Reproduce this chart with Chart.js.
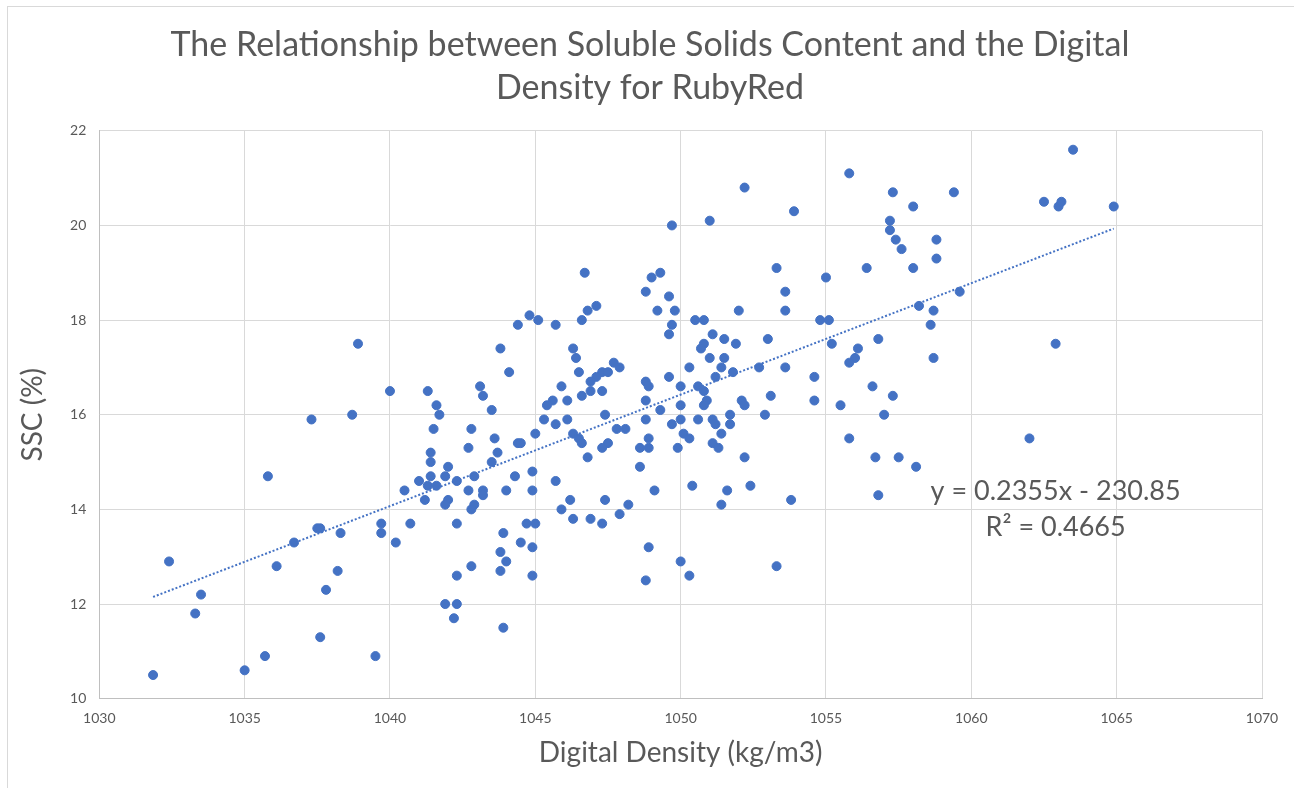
<!DOCTYPE html>
<html>
<head>
<meta charset="utf-8">
<title>SSC vs Digital Density - RubyRed</title>
<script src="https://cdn.jsdelivr.net/npm/chart.js@4.4.1/dist/chart.umd.min.js"></script>
<style>
  html, body { margin: 0; padding: 0; background: #fff; overflow: hidden; }
  canvas { display: block; }
</style>
</head>
<body>
<canvas id="chart" width="1294" height="788"></canvas>
<script>
// data (density kg/m3, SSC %)
const density = [
  1031.85, 1032.4, 1033.3, 1033.5, 1035.0, 1035.7, 1035.8, 1036.1, 1036.7, 1037.3,
  1037.5, 1037.6, 1037.6, 1037.8, 1038.2, 1038.3, 1038.7, 1038.9, 1039.5, 1039.7,
  1039.7, 1040.0, 1040.2, 1040.5, 1040.7,
  1046.7, 1049.0, 1049.3, 1048.8, 1049.6, 1046.8, 1047.1, 1049.2, 1049.8, 1049.7,
  1049.6, 1044.8, 1045.1, 1044.4, 1045.7, 1046.6, 1043.8, 1044.1, 1046.3, 1046.4,
  1046.5, 1047.7, 1047.9, 1047.3, 1047.5, 1047.1, 1046.9, 1046.9, 1046.6, 1047.3,
  1045.9, 1046.1, 1045.6, 1045.4,
  1041.3, 1041.6, 1041.7, 1041.5, 1043.1, 1043.2, 1043.5, 1045.3, 1045.7, 1046.1,
  1045.0, 1046.3, 1046.5, 1046.6, 1047.4, 1047.8, 1048.1, 1047.5, 1047.3, 1046.8,
  1042.8, 1042.7, 1043.6, 1043.7, 1043.5, 1044.4, 1044.5, 1041.4, 1041.4, 1042.0,
  1041.4, 1041.9, 1042.9, 1041.0, 1042.3, 1041.3, 1041.6, 1042.7, 1043.2, 1043.2,
  1041.2, 1042.0, 1041.9, 1042.9, 1042.8, 1044.3, 1044.9, 1044.0, 1044.9, 1045.7,
  1046.2, 1045.9, 1046.3, 1046.9, 1047.3, 1047.4, 1047.9, 1048.2, 1042.3, 1044.7,
  1045.0, 1043.9, 1044.5, 1044.9, 1043.8, 1044.0, 1043.8, 1042.8, 1042.3, 1044.9,
  1041.9, 1042.3, 1042.2, 1043.9,
  1048.8, 1048.9, 1048.8, 1049.6, 1050.0, 1048.8, 1049.3, 1049.7, 1050.0, 1050.0,
  1050.1, 1048.6, 1048.9, 1048.9, 1049.9, 1048.6, 1049.1, 1048.9, 1048.8, 1050.0,
  1049.7,
  1055.8, 1052.2, 1057.3, 1059.4, 1058.0, 1053.9, 1051.0, 1057.2, 1057.2, 1057.4,
  1058.8, 1057.6, 1058.8, 1053.3, 1056.4, 1058.0, 1055.0, 1053.6, 1059.6, 1058.2,
  1058.7, 1058.6, 1052.0, 1053.6, 1050.5, 1050.8, 1054.8, 1055.1, 1058.7, 1051.1,
  1051.5, 1051.9, 1050.8, 1050.7, 1051.0, 1051.5, 1051.4, 1051.8, 1050.3, 1051.2,
  1050.6, 1050.8, 1050.9, 1050.8, 1052.1, 1052.2, 1052.7, 1053.0, 1053.6, 1053.1,
  1054.6, 1054.6, 1055.5, 1055.2, 1056.1, 1056.0, 1055.8, 1056.8, 1056.6, 1057.3,
  1057.0, 1051.7, 1052.9, 1050.6, 1051.1,
  1051.2, 1051.7, 1051.4, 1050.3, 1051.1, 1051.3, 1052.2, 1050.4, 1051.6, 1052.4,
  1051.4, 1053.8, 1055.8, 1056.7, 1057.5, 1058.1, 1056.8, 1050.3, 1053.3,
  1063.5, 1062.5, 1063.0, 1063.1, 1064.9, 1062.9, 1062.0
];
const ssc = [
  10.5, 12.9, 11.8, 12.2, 10.6, 10.9, 14.7, 12.8, 13.3, 15.9,
  13.6, 13.6, 11.3, 12.3, 12.7, 13.5, 16.0, 17.5, 10.9, 13.7,
  13.5, 16.5, 13.3, 14.4, 13.7,
  19.0, 18.9, 19.0, 18.6, 18.5, 18.2, 18.3, 18.2, 18.2, 17.9,
  17.7, 18.1, 18.0, 17.9, 17.9, 18.0, 17.4, 16.9, 17.4, 17.2,
  16.9, 17.1, 17.0, 16.9, 16.9, 16.8, 16.7, 16.5, 16.4, 16.5,
  16.6, 16.3, 16.3, 16.2,
  16.5, 16.2, 16.0, 15.7, 16.6, 16.4, 16.1, 15.9, 15.8, 15.9,
  15.6, 15.6, 15.5, 15.4, 16.0, 15.7, 15.7, 15.4, 15.3, 15.1,
  15.7, 15.3, 15.5, 15.2, 15.0, 15.4, 15.4, 15.2, 15.0, 14.9,
  14.7, 14.7, 14.7, 14.6, 14.6, 14.5, 14.5, 14.4, 14.4, 14.3,
  14.2, 14.2, 14.1, 14.1, 14.0, 14.7, 14.8, 14.4, 14.4, 14.6,
  14.2, 14.0, 13.8, 13.8, 13.7, 14.2, 13.9, 14.1, 13.7, 13.7,
  13.7, 13.5, 13.3, 13.2, 13.1, 12.9, 12.7, 12.8, 12.6, 12.6,
  12.0, 12.0, 11.7, 11.5,
  16.7, 16.6, 16.3, 16.8, 16.6, 15.9, 16.1, 15.8, 16.2, 15.9,
  15.6, 15.3, 15.3, 15.5, 15.3, 14.9, 14.4, 13.2, 12.5, 12.9,
  20.0,
  21.1, 20.8, 20.7, 20.7, 20.4, 20.3, 20.1, 20.1, 19.9, 19.7,
  19.7, 19.5, 19.3, 19.1, 19.1, 19.1, 18.9, 18.6, 18.6, 18.3,
  18.2, 17.9, 18.2, 18.2, 18.0, 18.0, 18.0, 18.0, 17.2, 17.7,
  17.6, 17.5, 17.5, 17.4, 17.2, 17.2, 17.0, 16.9, 17.0, 16.8,
  16.6, 16.5, 16.3, 16.2, 16.3, 16.2, 17.0, 17.6, 17.0, 16.4,
  16.8, 16.3, 16.2, 17.5, 17.4, 17.2, 17.1, 17.6, 16.6, 16.4,
  16.0, 16.0, 16.0, 15.9, 15.9,
  15.8, 15.8, 15.6, 15.5, 15.4, 15.3, 15.1, 14.5, 14.4, 14.5,
  14.1, 14.2, 15.5, 15.1, 15.1, 14.9, 14.3, 12.6, 12.8,
  21.6, 20.5, 20.4, 20.5, 20.4, 17.5, 15.5
];

// trendline as shown on the chart
const slope = 0.2355;
const intercept = -230.85;
const r2 = 0.4665;

const xTicks = [1030, 1035, 1040, 1045, 1050, 1055, 1060, 1065, 1070];
const yTicks = [10, 12, 14, 16, 18, 20, 22];

const blue = '#4472C4';
const grey = '#595959';

const points = density.map((d, i) => ({ x: d, y: ssc[i] }));
const xMin = Math.min(...density);
const xMax = Math.max(...density);
const trend = [xMin, xMax].map(x => ({ x: x, y: slope * x + intercept }));

// outer frame + trendline equation text
const extras = {
  id: 'extras',
  beforeDraw(chart) {
    const ctx = chart.ctx;
    ctx.save();
    ctx.fillStyle = '#fff';
    ctx.fillRect(0, 0, chart.width, chart.height);
    ctx.strokeStyle = '#d9d9d9';
    ctx.lineWidth = 1;
    ctx.strokeRect(7.5, 6.5, chart.width + 20, chart.height + 20);
    ctx.restore();
  },
  afterDatasetsDraw(chart) {
    const ctx = chart.ctx;
    const xs = chart.scales.x, ys = chart.scales.y;
    const cx = xs.getPixelForValue(1062.9);
    ctx.save();
    ctx.fillStyle = grey;
    ctx.font = '27px Lato';
    ctx.textAlign = 'center';
    ctx.textBaseline = 'middle';
    const sign = intercept < 0 ? ' - ' : ' + ';
    ctx.fillText('y = ' + slope + 'x' + sign + Math.abs(intercept), cx, ys.getPixelForValue(14.38));
    ctx.fillText('R² = ' + r2, cx, ys.getPixelForValue(13.62));
    ctx.restore();
  }
};

new Chart(document.getElementById('chart'), {
  type: 'scatter',
  data: {
    datasets: [
      {
        label: 'Trend',
        type: 'line',
        data: trend,
        borderColor: blue,
        borderWidth: 2,
        borderDash: [2, 2],
        pointRadius: 0,
        fill: false,
        order: 0
      },
      {
        label: 'SSC',
        data: points,
        backgroundColor: blue,
        borderColor: blue,
        borderWidth: 1,
        pointRadius: 4.5,
        order: 1
      }
    ]
  },
  options: {
    responsive: false,
    animation: false,
    // left pad shifts the title centre to match the original
    layout: { padding: { left: 38, right: 32, top: 0, bottom: 0 } },
    plugins: {
      legend: { display: false },
      tooltip: { enabled: false },
      title: {
        display: true,
        text: ['The Relationship between Soluble Solids Content and the Digital', 'Density for RubyRed'],
        color: grey,
        font: { family: 'Lato', size: 34, weight: 'normal', lineHeight: 1.26 },
        padding: { top: 23.6, bottom: 21.5 }
      }
    },
    scales: {
      x: {
        type: 'linear',
        min: 1030,
        max: 1070,
        afterFit(scale) { scale.height = 89.3; },
        afterBuildTicks(scale) { scale.ticks = xTicks.map(v => ({ value: v })); },
        grid: { color: '#d9d9d9', drawTicks: false },
        border: { color: '#bfbfbf' },
        ticks: {
          color: grey, padding: 11, font: { family: 'Lato', size: 14 },
          callback: v => String(v)
        },
        title: {
          display: true,
          text: 'Digital Density (kg/m3)',
          color: grey,
          font: { family: 'Lato', size: 28 },
          padding: { top: 0, bottom: 18.2 }
        }
      },
      y: {
        type: 'linear',
        min: 10,
        max: 22,
        afterFit(scale) { scale.width = 61.3; },
        afterBuildTicks(scale) { scale.ticks = yTicks.map(v => ({ value: v })); },
        grid: { color: '#d9d9d9', drawTicks: false },
        border: { color: '#bfbfbf' },
        ticks: {
          color: grey, padding: 13, font: { family: 'Lato', size: 14 },
          callback: v => String(v)
        },
        title: {
          display: true,
          text: 'SSC (%)',
          color: grey,
          font: { family: 'Lato', size: 28 },
          padding: { top: -21.8, bottom: 0 }
        }
      }
    }
  },
  plugins: [extras]
});
</script>
</body>
</html>
